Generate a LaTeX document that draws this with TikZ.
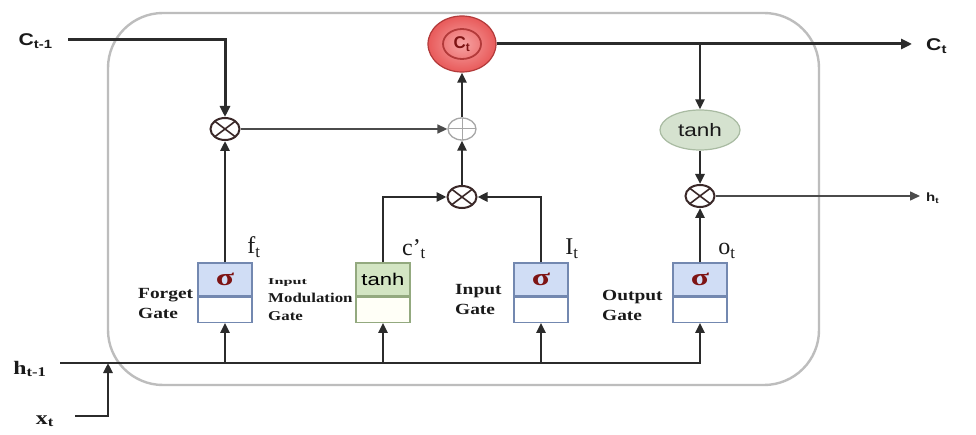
\documentclass[tikz,border=0pt]{standalone}
\usepackage{fontspec}
\setmainfont{Liberation Serif}
\newfontfamily\arialf{Liberation Sans}
\usepackage{graphicx}
\usetikzlibrary{arrows.meta,shapes.geometric,calc}
\newcommand\stx[1]{\scalebox{1.25}[1]{#1}}
\definecolor{linec}{HTML}{2B2B2B}
\definecolor{multc}{HTML}{3A2828}
\definecolor{boxc}{HTML}{BDBDBD}
\definecolor{blueg}{HTML}{D0DDF5}
\definecolor{bluebd}{HTML}{7388B0}
\definecolor{greeng}{HTML}{D3E5C3}
\definecolor{greenbd}{HTML}{93A97F}
\definecolor{sigc}{HTML}{7E1414}
\definecolor{ctin}{HTML}{F6A3A3}
\definecolor{ctout}{HTML}{E85A5A}
\definecolor{ctbd}{HTML}{B23A3A}
\definecolor{thfill}{HTML}{D5E2CF}
\definecolor{thbd}{HTML}{A9BBA2}
\definecolor{txtc}{HTML}{1A1A1A}
\newcommand\sig{{\color{sigc}\fontsize{24}{24}\selectfont\bfseries\scalebox{1.4}[1]{σ}}}
\tikzset{
  conn/.style={draw=linec, line width=2.5pt},
  arr/.style={conn, -{Triangle[length=10pt,width=9pt]}},
  thickarr/.style={draw=linec, line width=3pt, -{Triangle[length=11pt,width=10pt]}},
  thinarr/.style={draw=linec!85, line width=1.5pt, -{Triangle[length=10pt,width=9pt]}},
  mult/.style={ellipse, draw=multc, line width=2pt, minimum width=29pt, minimum height=22pt, inner sep=0pt, fill=white,
    path picture={\draw[line width=1.6pt, multc] (path picture bounding box.north west) -- (path picture bounding box.south east)
      (path picture bounding box.north east) -- (path picture bounding box.south west);}},
  plusn/.style={ellipse, draw=gray!70, line width=1.3pt, minimum width=28pt, minimum height=22pt, inner sep=0pt, fill=white,
    path picture={\draw[gray!70, line width=1pt] (path picture bounding box.north) -- (path picture bounding box.south)
      (path picture bounding box.west) -- (path picture bounding box.east);}},
  sigtop/.style={rectangle, draw=bluebd, fill=blueg, line width=1.3pt, minimum width=54pt, minimum height=33pt, inner sep=0pt},
  tanhtop/.style={rectangle, draw=greenbd, fill=greeng, line width=1.3pt, minimum width=54pt, minimum height=33pt, inner sep=0pt},
  sigbot/.style={rectangle, draw=bluebd, fill=white, line width=1.3pt, minimum width=54pt, minimum height=25pt, anchor=north, inner sep=0pt},
  tanhbot/.style={rectangle, draw=greenbd, fill=yellow!3, line width=1.3pt, minimum width=54pt, minimum height=25pt, anchor=north, inner sep=0pt},
  lbl/.style={text=txtc, font=\fontsize{15.5}{20}\selectfont\bfseries, align=left, inner sep=0pt, anchor=west},
  varl/.style={text=txtc, font=\fontsize{24}{26}\selectfont, inner sep=0pt},
  io/.style={text=txtc, font=\arialf\bfseries\fontsize{17}{19}\selectfont, inner sep=0pt},
  iosmall/.style={text=txtc, font=\arialf\bfseries\fontsize{12}{14}\selectfont, inner sep=0pt},
  ioser/.style={text=txtc, font=\bfseries\fontsize{19}{21}\selectfont, inner sep=0pt},
}
\begin{document}
\begin{tikzpicture}[x=1pt,y=-1pt]
\useasboundingbox[fill=white] (0,0) rectangle (976,435);
% cell outline
\draw[draw=boxc, line width=2.4pt, rounded corners=55pt] (108,13) rectangle (819,385);

% gates
\node[sigtop] (fgs) at (225,279.5) {\sig};
\node[sigbot] (fgb) at (fgs.south) {};
\node[tanhtop] (tgs) at (383,279.5) {\arialf\fontsize{17}{17}\selectfont\scalebox{1.3}[1]{tanh}};
\node[tanhbot] (tgb) at (tgs.south) {};
\node[sigtop] (igs) at (541,279.5) {\sig};
\node[sigbot] (igb) at (igs.south) {};
\node[sigtop] (ogs) at (700,279.5) {\sig};
\node[sigbot] (ogb) at (ogs.south) {};

% operators
\node[mult] (m1) at (225,129) {};
\node[mult] (m2) at (462,197) {};
\node[mult] (m3) at (700,196) {};
\node[plusn] (p1) at (462,129) {};
\node[ellipse, draw=ctbd, line width=1.2pt, inner color=ctin, outer color=ctout, minimum width=68pt, minimum height=56pt] (ct) at (462,44) {};
\node[ellipse, draw=ctbd, line width=1.8pt, minimum width=38pt, minimum height=30pt, inner sep=0pt, text=sigc,
      font=\arialf\bfseries\fontsize{17}{17}\selectfont] (cti) at (ct.center) {C\textsubscript{t}};
\node[ellipse, draw=thbd, line width=1.2pt, fill=thfill, minimum width=80pt, minimum height=40pt, inner sep=0pt,
      text=txtc, font=\arialf\fontsize{18}{18}\selectfont] (th) at (700,130) {\stx{tanh}};

% outside labels
\node[io, anchor=east] (cin) at (53,41) {\stx{C\textsubscript{t-1}}};
\node[io, anchor=west] (cout) at (926,46) {\stx{C\textsubscript{t}}};
\node[iosmall, anchor=west] (hout) at (926,198) {\stx{h\textsubscript{t}}};
\node[ioser] (hin) at (30,369) {\stx{h\textsubscript{t-1}}};
\node[ioser] (xin) at (45,421) {\stx{x\textsubscript{t}}};

\coordinate (c0) at (68,40);
\coordinate (ctend) at (912,44);
\coordinate (htend) at (920,196);
\coordinate (h0) at (60,363);
\coordinate (hx) at (108,363);
\coordinate (x0) at (75,416);

% variable labels
\node[varl] (ft) at (254,247) {f\textsubscript{t}};
\node[varl] (cpt) at (414,249) {c’\textsubscript{t}};
\node[varl] (itl) at (572,249) {I\textsubscript{t}};
\node[varl] (otl) at (727,251) {o\textsubscript{t}};

% gate names
\node[lbl] (fgl) at (138,304) {\stx{Forget}\\\stx{Gate}};
\node[lbl, font=\fontsize{13.5}{18}\selectfont\bfseries] (mgl) at (268,300)
  {\scalebox{1.8}[1]{\fontsize{9}{10}\selectfont Input}\\\stx{Modulation}\\\stx{Gate}};
\node[lbl] (igl) at (455,300) {\stx{Input}\\\stx{Gate}};
\node[lbl] (ogl) at (602,305) {\stx{Output}\\\stx{Gate}};

% connectors
\draw[thickarr] (c0) -| (m1.north);
\draw[arr] (fgs.north) -- (m1.south);
\draw[thinarr] (m1.east) -- (p1.west);
\draw[arr] (tgs.north) |- (m2.west);
\draw[arr] (igs.north) |- (m2.east);
\draw[arr] (m2) -- (p1);
\draw[arr] (p1) -- (ct);
\draw[thickarr] (ct.east) -- (ctend);
\draw[arr] (th.north |- ctend) -- (th.north);
\draw[arr] (th) -- (m3);
\draw[arr] (ogs.north) -- (m3.south);
\draw[thinarr] (m3.east) -- (htend);
\draw[arr] (h0) -| (ogb.south);
\draw[arr] (fgb.south |- h0) -- (fgb.south);
\draw[arr] (tgb.south |- h0) -- (tgb.south);
\draw[arr] (igb.south |- h0) -- (igb.south);
\draw[arr] (x0) -| (hx);
\end{tikzpicture}
\end{document}
